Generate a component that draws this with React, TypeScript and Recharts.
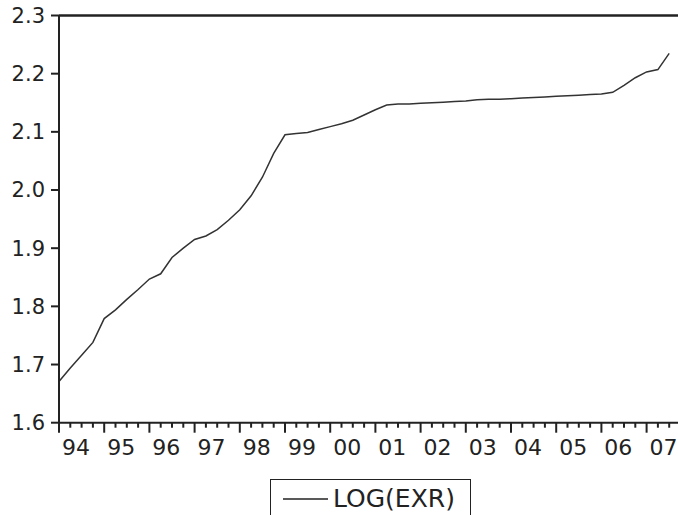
import React from "react";
import { Legend, Line, LineChart, ReferenceLine, XAxis, YAxis } from "recharts";

// year labels, one per year (1994 .. 2007)
const years = ["94", "95", "96", "97", "98", "99", "00", "01", "02", "03", "04", "05", "06", "07"];

// LOG(EXR), quarterly from 1994Q1 to 2007Q3
const logExr = [
  1.671, 1.694, 1.716, 1.738,
  1.779, 1.794, 1.812, 1.829,
  1.847, 1.856, 1.884, 1.900,
  1.915, 1.921, 1.932, 1.948,
  1.966, 1.990, 2.022, 2.063,
  2.095, 2.097, 2.099, 2.104,
  2.109, 2.114, 2.120, 2.129,
  2.138, 2.146, 2.148, 2.148,
  2.149, 2.150, 2.151, 2.152,
  2.153, 2.155, 2.156, 2.156,
  2.157, 2.158, 2.159, 2.160,
  2.161, 2.162, 2.163, 2.164,
  2.165, 2.168, 2.180, 2.193,
  2.203, 2.207, 2.235,
];

const yTicks = [1.6, 1.7, 1.8, 1.9, 2.0, 2.1, 2.2, 2.3];

const data = logExr.map((v, i) => ({ i, v }));

// one tick per quarter, plus a label position in the middle of each year
const quarterTicks = Array.from({ length: years.length * 4 }, (_, q) => q);
const labelTicks = years.map((_, k) => k * 4 + 1.5);
const xTicks = [...quarterTicks, ...labelTicks];

const INK = "#222";
const FONT = "DejaVu Sans";

const XTick = (props: any) => {
  const { x, y, payload } = props;
  const val: number = payload.value;
  if (Number.isInteger(val)) {
    const len = val % 4 === 0 ? 10 : 5;
    return <line x1={x} x2={x} y1={y} y2={y + len} stroke={INK} strokeWidth={2} />;
  }
  const label = years[Math.round((val - 1.5) / 4)];
  return (
    <text x={x} y={y + 32} textAnchor="middle" fontFamily={FONT} fontSize={22} fill={INK}>
      {label}
    </text>
  );
};

const LegendBox = () => (
  <div
    style={{
      border: `1.5px solid ${INK}`,
      height: 44,
      boxSizing: "border-box",
      display: "flex",
      alignItems: "flex-start",
      paddingTop: 5,
      fontFamily: FONT,
      fontSize: 25,
      color: INK,
    }}
  >
    <svg width={60} height={28} style={{ flex: "none" }}>
      <line x1={12} x2={57} y1={14} y2={14} stroke={INK} strokeWidth={1.5} />
    </svg>
    <span style={{ marginLeft: 2, lineHeight: "28px" }}>LOG(EXR)</span>
  </div>
);

export default function App() {
  return (
    <div
      style={{
        position: "absolute",
        left: 0,
        top: 0,
        width: 678,
        height: 515,
        overflow: "hidden",
        background: "#fff",
      }}
    >
      <LineChart
        width={700}
        height={515}
        data={data}
        margin={{ top: 15.5, right: 19.5, left: 0, bottom: 52.3 }}
      >
        <XAxis
          dataKey="i"
          type="number"
          domain={[0, 55]}
          ticks={xTicks}
          interval={0}
          tickSize={0}
          tickMargin={0}
          tickLine={false}
          tick={XTick}
          height={40}
          stroke={INK}
          strokeWidth={2}
          allowDataOverflow
        />
        <YAxis
          type="number"
          domain={[1.6, 2.3]}
          ticks={yTicks}
          interval={0}
          width={59}
          tickSize={8}
          tickMargin={6}
          tickFormatter={(v: number) => v.toFixed(1)}
          tick={{ fontFamily: FONT, fontSize: 21, fill: INK }}
          stroke={INK}
          strokeWidth={2}
          allowDataOverflow
        />
        <ReferenceLine y={2.3} stroke={INK} strokeWidth={2.5} />
        <Line
          dataKey="v"
          type="linear"
          stroke="#333"
          strokeWidth={1.5}
          dot={false}
          isAnimationActive={false}
        />
        <Legend
          layout="horizontal"
          verticalAlign="middle"
          align="center"
          content={LegendBox}
          wrapperStyle={{ left: 270, top: 479, width: 201 }}
        />
      </LineChart>
    </div>
  );
}
